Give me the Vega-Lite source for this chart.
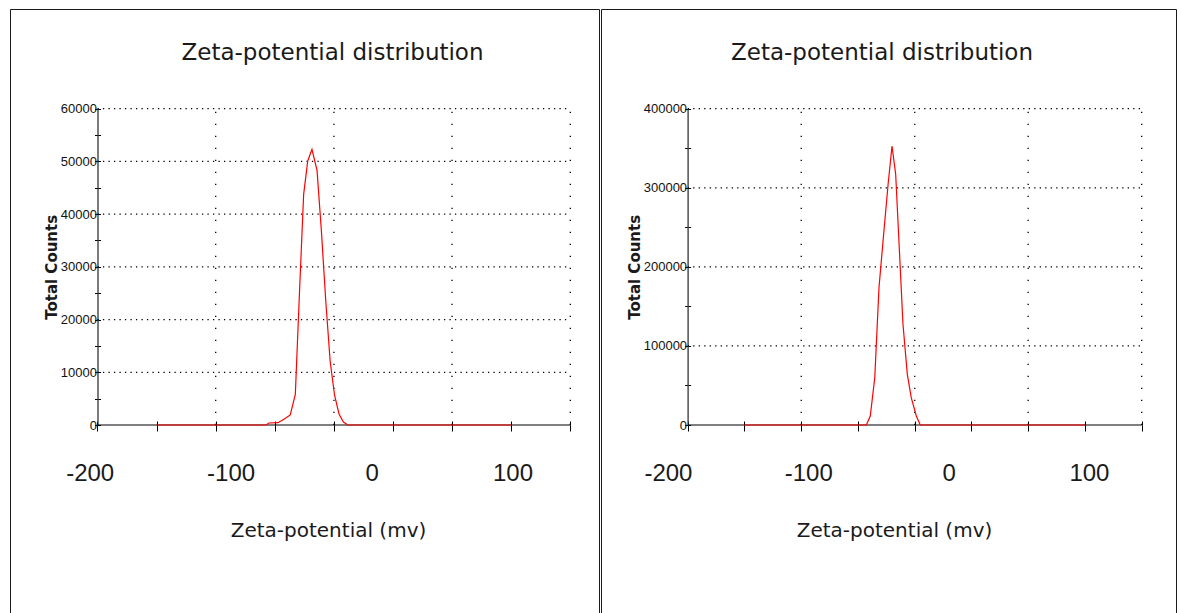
{
  "$schema": "https://vega.github.io/schema/vega-lite/v6.json",
  "background": "white",
  "padding": {"left": 9, "top": 8, "right": 0, "bottom": 0},
  "spacing": 0,
  "config": {
    "view": {"stroke": "#1a1a1a", "strokeWidth": 1},
    "title": {"font": "DejaVu Sans", "fontSize": 23, "fontWeight": "normal", "color": "#1a1a1a", "anchor": "middle", "frame": "group", "baseline": "alphabetic", "offset": -55.5},
    "axis": {"grid": false, "labelColor": "#111111", "titleColor": "#1a1a1a", "domainColor": "#000000", "tickColor": "#000000", "labelFlush": false, "labelOverlap": false}
  },
  "datasets": {
    "curveLeft": [
      {"mv": -152.6, "counts": 0},
      {"mv": -74.9, "counts": 0},
      {"mv": -72.8, "counts": 380},
      {"mv": -66.4, "counts": 440},
      {"mv": -62.2, "counts": 1100},
      {"mv": -57.7, "counts": 1900},
      {"mv": -54.1, "counts": 5820},
      {"mv": -51.2, "counts": 24850},
      {"mv": -48.2, "counts": 43760},
      {"mv": -45.3, "counts": 50080},
      {"mv": -42.3, "counts": 52300},
      {"mv": -38.7, "counts": 48300},
      {"mv": -35.6, "counts": 36800},
      {"mv": -32.5, "counts": 23520},
      {"mv": -29.4, "counts": 12140},
      {"mv": -26.3, "counts": 5690},
      {"mv": -23.1, "counts": 2090},
      {"mv": -20.0, "counts": 570},
      {"mv": -16.9, "counts": 0},
      {"mv": 99.1, "counts": 0}
    ],
    "curveRight": [
      {"mv": -145.5, "counts": 0},
      {"mv": -58.6, "counts": 0},
      {"mv": -55.8, "counts": 11380},
      {"mv": -52.6, "counts": 59810},
      {"mv": -49.6, "counts": 173620},
      {"mv": -46.7, "counts": 232680},
      {"mv": -43.1, "counts": 304380},
      {"mv": -40.3, "counts": 352810},
      {"mv": -37.7, "counts": 317020},
      {"mv": -34.8, "counts": 211560},
      {"mv": -32.5, "counts": 127340},
      {"mv": -29.4, "counts": 64110},
      {"mv": -26.6, "counts": 34520},
      {"mv": -23.0, "counts": 11380},
      {"mv": -20.2, "counts": 0},
      {"mv": 97.2, "counts": 0}
    ],
    "gridXLeft": [{"mv": -110.6}, {"mv": -26.7}, {"mv": 57.1}, {"mv": 141}],
    "gridXRight": [{"mv": -105.0}, {"mv": -24.1}, {"mv": 56.7}, {"mv": 137.6}],
    "gridYLeft": [{"counts": 10000}, {"counts": 20000}, {"counts": 30000}, {"counts": 40000}, {"counts": 50000}, {"counts": 60000}],
    "gridYRight": [{"counts": 100000}, {"counts": 200000}, {"counts": 300000}, {"counts": 400000}]
  },
  "hconcat": [
    {
      "width": 589,
      "height": 612,
      "title": {"text": "Zeta-potential distribution", "dx": 28},
      "resolve": {"axis": {"x": "independent", "y": "independent"}},
      "layer": [
        {
          "data": {"name": "gridXLeft"},
          "mark": {"type": "rule", "color": "#000000", "strokeWidth": 1.3, "strokeDash": [1.3, 10.7]},
          "encoding": {
            "x": {"field": "mv", "type": "quantitative", "scale": {"domain": [-200, 141], "range": [79.7, 560.3]},
              "axis": {"orient": "bottom", "offset": -196, "values": [-194.5, -152.6, -110.6, -68.7, -26.7, 15.2, 57.1, 99.1, 141], "labels": false, "domain": false, "ticks": true, "tickSize": 6, "title": null}},
            "y": {"datum": 0, "type": "quantitative", "scale": {"domain": [0, 60000], "range": [416, 99.7]},
              "axis": {"orient": "left", "offset": -87.5, "values": [0, 5000, 10000, 15000, 20000, 25000, 30000, 35000, 40000, 45000, 50000, 55000, 60000], "labels": false, "domain": false, "ticks": true, "tickSize": 3, "title": null}},
            "y2": {"datum": 60000}
          }
        },
        {
          "data": {"name": "gridYLeft"},
          "mark": {"type": "rule", "color": "#000000", "strokeWidth": 1.3, "strokeDash": [1.3, 4.2]},
          "encoding": {
            "y": {"field": "counts", "type": "quantitative", "scale": {"domain": [0, 60000], "range": [416, 99.7]},
              "axis": {"orient": "left", "offset": -87.5, "values": [0, 5000, 10000, 15000, 20000, 25000, 30000, 35000, 40000, 45000, 50000, 55000, 60000], "labels": false, "domain": false, "ticks": true, "tickSize": -3, "title": null}},
            "x": {"datum": -194.5, "type": "quantitative", "scale": {"domain": [-200, 141], "range": [79.7, 560.3]},
              "axis": {"orient": "bottom", "offset": -196, "values": [-194.5, -152.6, -110.6, -68.7, -26.7, 15.2, 57.1, 99.1, 141], "labels": false, "domain": false, "ticks": true, "tickSize": -4, "title": null}},
            "x2": {"datum": 141}
          }
        },
        {
          "data": {"values": [{}]},
          "mark": {"type": "rule", "color": "#000000", "strokeWidth": 1.2},
          "encoding": {
            "y": {"datum": 0, "type": "quantitative", "scale": {"domain": [0, 60000], "range": [416, 99.7]}, "axis": null},
            "x": {"datum": -194.5, "type": "quantitative", "scale": {"domain": [-200, 141], "range": [79.7, 560.3]}, "axis": null},
            "x2": {"datum": 141}
          }
        },
        {
          "data": {"name": "curveLeft"},
          "mark": {"type": "line", "color": "#ff0000", "strokeWidth": 1.2},
          "encoding": {
            "x": {"field": "mv", "type": "quantitative", "scale": {"domain": [-200, 141], "range": [79.7, 560.3]},
              "axis": {"orient": "bottom", "offset": -196, "values": [-200, -100, 0, 100], "labelExpr": "toString(datum.value)", "ticks": false, "domain": false, "labelFont": "Liberation Sans", "labelFontSize": 24, "labelPadding": 36, "labelColor": "#1a1a1a", "title": "Zeta-potential (mv)", "titleX": 318, "titleFont": "DejaVu Sans", "titleFontSize": 20, "titleFontWeight": "normal", "titlePadding": 35}},
            "y": {"field": "counts", "type": "quantitative", "scale": {"domain": [0, 60000], "range": [416, 99.7]},
              "axis": {"orient": "left", "offset": -87.5, "values": [0, 10000, 20000, 30000, 40000, 50000, 60000], "format": "d", "ticks": false, "domain": true, "domainColor": "#333333", "domainWidth": 1.3, "labelFont": "Liberation Sans Narrow, Liberation Sans, sans-serif", "labelFontSize": 13, "labelPadding": 1, "labelColor": "#111111", "title": "Total Counts", "titleFont": "DejaVu Sans", "titleFontSize": 15, "titleFontWeight": "bold", "titlePadding": 1}}
          }
        }
      ]
    },
    {
      "width": 575,
      "height": 612,
      "title": {"text": "Zeta-potential distribution", "dx": -6.5},
      "resolve": {"axis": {"x": "independent", "y": "independent"}},
      "layer": [
        {
          "data": {"name": "gridXRight"},
          "mark": {"type": "rule", "color": "#000000", "strokeWidth": 1.3, "strokeDash": [1.3, 10.7]},
          "encoding": {
            "x": {"field": "mv", "type": "quantitative", "scale": {"domain": [-200, 137.6], "range": [66.9, 540.7]},
              "axis": {"orient": "bottom", "offset": -196, "values": [-185.9, -145.5, -105.0, -64.6, -24.1, 16.3, 56.7, 97.2, 137.6], "labels": false, "domain": false, "ticks": true, "tickSize": 6, "title": null}},
            "y": {"datum": 0, "type": "quantitative", "scale": {"domain": [0, 400000], "range": [416, 99.7]},
              "axis": {"orient": "left", "offset": -86.6, "values": [0, 50000, 100000, 150000, 200000, 250000, 300000, 350000, 400000], "labels": false, "domain": false, "ticks": true, "tickSize": 3, "title": null}},
            "y2": {"datum": 400000}
          }
        },
        {
          "data": {"name": "gridYRight"},
          "mark": {"type": "rule", "color": "#000000", "strokeWidth": 1.3, "strokeDash": [1.3, 4.2]},
          "encoding": {
            "y": {"field": "counts", "type": "quantitative", "scale": {"domain": [0, 400000], "range": [416, 99.7]},
              "axis": {"orient": "left", "offset": -86.6, "values": [0, 50000, 100000, 150000, 200000, 250000, 300000, 350000, 400000], "labels": false, "domain": false, "ticks": true, "tickSize": -3, "title": null}},
            "x": {"datum": -185.9, "type": "quantitative", "scale": {"domain": [-200, 137.6], "range": [66.9, 540.7]},
              "axis": {"orient": "bottom", "offset": -196, "values": [-185.9, -145.5, -105.0, -64.6, -24.1, 16.3, 56.7, 97.2, 137.6], "labels": false, "domain": false, "ticks": true, "tickSize": -4, "title": null}},
            "x2": {"datum": 137.6}
          }
        },
        {
          "data": {"values": [{}]},
          "mark": {"type": "rule", "color": "#000000", "strokeWidth": 1.2},
          "encoding": {
            "y": {"datum": 0, "type": "quantitative", "scale": {"domain": [0, 400000], "range": [416, 99.7]}, "axis": null},
            "x": {"datum": -185.9, "type": "quantitative", "scale": {"domain": [-200, 137.6], "range": [66.9, 540.7]}, "axis": null},
            "x2": {"datum": 137.6}
          }
        },
        {
          "data": {"name": "curveRight"},
          "mark": {"type": "line", "color": "#ff0000", "strokeWidth": 1.2},
          "encoding": {
            "x": {"field": "mv", "type": "quantitative", "scale": {"domain": [-200, 137.6], "range": [66.9, 540.7]},
              "axis": {"orient": "bottom", "offset": -196, "values": [-200, -100, 0, 100], "labelExpr": "toString(datum.value)", "ticks": false, "domain": false, "labelFont": "Liberation Sans", "labelFontSize": 24, "labelPadding": 36, "labelColor": "#1a1a1a", "title": "Zeta-potential (mv)", "titleX": 293, "titleFont": "DejaVu Sans", "titleFontSize": 20, "titleFontWeight": "normal", "titlePadding": 35}},
            "y": {"field": "counts", "type": "quantitative", "scale": {"domain": [0, 400000], "range": [416, 99.7]},
              "axis": {"orient": "left", "offset": -86.6, "values": [0, 100000, 200000, 300000, 400000], "format": "d", "ticks": false, "domain": true, "domainColor": "#333333", "domainWidth": 1.3, "labelFont": "Liberation Sans Narrow, Liberation Sans, sans-serif", "labelFontSize": 13, "labelPadding": 1, "labelColor": "#111111", "title": "Total Counts", "titleFont": "DejaVu Sans", "titleFontSize": 15, "titleFontWeight": "bold", "titlePadding": 1}}
          }
        }
      ]
    }
  ]
}
